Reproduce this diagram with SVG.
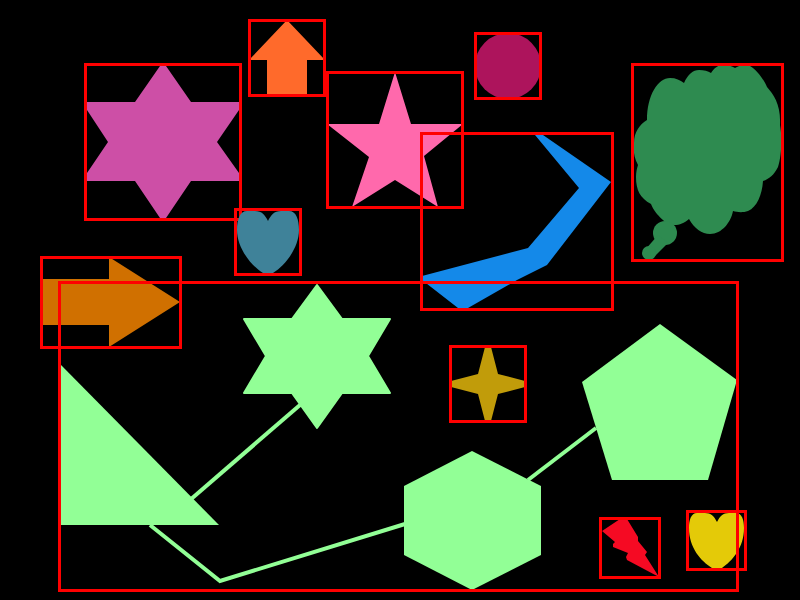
<svg xmlns="http://www.w3.org/2000/svg" width="800" height="600" viewBox="0 0 800 600">
<style>
.box{fill:none;stroke:#ff0000;stroke-width:3}
.lime{fill:#92ff96}
.conn{fill:none;stroke:#92ff96;stroke-width:4}
</style>
<rect width="800" height="600" fill="#000"/>
<g id="connectors">
<path class="conn" d="M190 500L300 405"/>
<path class="conn" d="M150 525L220 581L405 524"/>
<path class="conn" d="M528 480L596 428"/>
</g>
<g id="triangle"><polygon class="lime" points="61,365 219,525 61,525"/></g>
<g id="hexagram-lime"><polygon class="lime" stroke="#92ff96" stroke-width="2" stroke-linejoin="round" points="317,285 342,319 390,319 368,356 390,393 342,393 317,428 292,393 244,393 266,356 244,319 292,319"/></g>
<g id="hexagon"><polygon class="lime" points="472,451 541,486 541,555 472,590 404,555 404,486"/></g>
<g id="pentagon"><polygon class="lime" points="660,324 737,380 708,480 612,480 582,382"/></g>
<g id="hexagram-magenta"><polygon fill="#cd4fa6" points="160,66 166,66 191,102 239,102 239,110 217,142 239,173 239,181 191,181 166,218 160,218 135,181 87,181 87,173 108,142 87,110 87,102 135,102"/><rect class="box" x="85.500" y="64.500" width="155" height="155"/></g>
<g id="arrow-up"><polygon fill="#ff6a2b" points="287,20 325,60 307,60 307,95 267,95 267,60 249,60"/><rect class="box" x="249.500" y="20.500" width="75" height="75"/></g>
<g id="circle"><circle cx="508" cy="66" r="33" fill="#ad145c"/><rect class="box" x="475.500" y="33.500" width="65" height="65"/></g>
<g id="star"><polygon fill="#ff69ac" points="395,72 411,124 463,124 424,156 438,207 395,180 352,207 369,157 327,124 379,124"/><rect class="box" x="327.500" y="72.500" width="135" height="135"/></g>
<g id="cloud"><g fill="#2e8b50">
<path d="M647 120C647 95 658 78 670 78C676 78 680 80 684 83C688 74 693 70 699 70C704 70 708 71 711 73C714 68 718 65 723 65C728 65 732 66 735 68C739 65 744 65 750 66C757 70 764 80 767 87C774 95 781 105 780 125C782 135 782 155 778 167C774 175 769 179 763 181C762 195 757 207 748 211C742 213 737 212 733 211C731 222 722 234 710 234C702 234 694 228 689 219C684 223 680 225 674 225C665 225 654 212 651 204C640 198 636 190 636 177C636 172 637 168 638 165C634 158 633 150 634 143C634 132 640 124 647 120Z"/>
<circle cx="665" cy="233" r="12"/>
<polygon points="658,235 668,243 655,256 645,250"/>
<circle cx="649" cy="253" r="7"/>
</g><rect class="box" x="632.500" y="64.500" width="150" height="196"/></g>
<g id="heart-teal"><path fill="#3f8299" d="M268 221C265 215 262 211 255 211L247 211C240 211 237 219 237 230C237 247 250 265 263 273L273 273C286 265 299 247 299 230C299 219 296 211 289 211L281 211C274 211 271 215 268 221Z"/><rect class="box" x="235.500" y="209.500" width="65" height="65"/></g>
<g id="blue-bent"><polygon fill="#1489e9" points="535,135 543,135 611,182 547,265 517,280 468,308 458,308 422,280 422,276 528,248 579,188"/></g>
<g id="arrow-right"><polygon fill="#d07000" points="42,279 109,279 109,257 180,302 109,347 109,325 42,325"/><rect class="box" x="41.500" y="257.500" width="139" height="90"/></g>
<g id="star4"><polygon fill="#c19c0a" points="485,347 491,347 498,374 525,381 525,387 498,394 491,421 485,421 478,394 451,387 451,381 478,374"/><rect class="box" x="450.500" y="346.500" width="75" height="75"/></g>
<g id="lightning"><polygon fill="#f50a23" points="602,531 620,519 627,519 638,537 638,541 647,552 645,555 659,577 627,560 626,557 628,553 613,547 613,544 615,542"/><rect class="box" x="600.500" y="518.500" width="59" height="59"/></g>
<g id="heart-yellow"><path fill="#e4ca08" d="M717 522C714 516 711 513 705 513L697 513C691 513 689 520 689 528C689 548 701 561 712 568L722 568C732 561 744 548 744 528C744 520 742 513 736 513L729 513C723 513 720 516 717 522Z"/><rect class="box" x="687.500" y="511.500" width="58" height="58"/></g>
<g id="frame-blue"><rect class="box" x="421.500" y="133.500" width="191" height="176"/></g>
<g id="frame-large"><rect class="box" x="59.500" y="282.500" width="678" height="308"/></g>
</svg>
